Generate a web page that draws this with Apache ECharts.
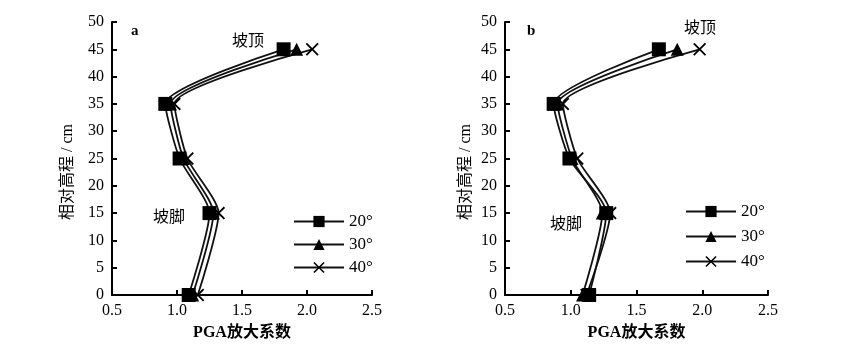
<!DOCTYPE html>
<html>
<head>
<meta charset="utf-8">
<script src="https://cdn.jsdelivr.net/npm/echarts@6/dist/echarts.min.js"></script>
<style>
  html, body { margin: 0; padding: 0; background: #fff; }
  #chart { width: 849px; height: 354px; }
</style>
</head>
<body>
<div id="chart"></div>
<script>
// 相对高程 (cm)
const heights = [0, 15, 25, 35, 45];
// a 图 PGA放大系数
const a20 = [1.09, 1.25, 1.02, 0.91, 1.82];
const a30 = [1.12, 1.28, 1.05, 0.95, 1.92];
const a40 = [1.16, 1.32, 1.08, 0.98, 2.04];
// b 图
const b20 = [1.14, 1.27, 0.99, 0.87, 1.67];
const b30 = [1.09, 1.24, 1.01, 0.90, 1.81];
const b40 = [1.12, 1.30, 1.05, 0.94, 1.98];
const names = ['20°', '30°', '40°'];

const serif = 'Liberation Serif, Noto Sans CJK SC';
const crossPath = 'path://M0,1L1,0L5,4L9,0L10,1L6,5L10,9L9,10L5,6L1,10L0,9L4,5Z';
const symbols = ['rect', 'triangle', crossPath];
const symbolSizes = [14, 13, 13];

const pair = (xs) => xs.map((v, i) => [v, heights[i]]);

const makeX = (gi) => ({
  gridIndex: gi, type: 'value', min: 0.5, max: 2.5, interval: 0.5,
  name: 'PGA放大系数', nameLocation: 'middle', nameGap: 30,
  nameTextStyle: { color: '#000', fontFamily: serif, fontSize: 16, fontWeight: 'bold' },
  axisLine: { lineStyle: { color: '#000', width: 2 } },
  axisTick: { inside: true, length: 5, lineStyle: { color: '#000', width: 2 } },
  axisLabel: { color: '#000', fontFamily: serif, fontSize: 16, margin: 8,
    formatter: v => v.toFixed(1) },
  splitLine: { show: false }
});
const makeY = (gi) => ({
  gridIndex: gi, type: 'value', min: 0, max: 50, interval: 5,
  axisLine: { show: true, lineStyle: { color: '#000', width: 2 } },
  axisTick: { show: true, inside: true, length: 5, lineStyle: { color: '#000', width: 2 } },
  axisLabel: { color: '#000', fontFamily: serif, fontSize: 16, margin: 8 },
  splitLine: { show: false }
});

const series = [];
[[a20, a30, a40], [b20, b30, b40]].forEach((group, gi) => {
  group.forEach((vals, k) => {
    series.push({
      name: names[k], type: 'line', xAxisIndex: gi, yAxisIndex: gi,
      data: pair(vals), smooth: 0.22,
      symbol: symbols[k], symbolSize: symbolSizes[k],
      lineStyle: { color: '#111', width: 1.8 },
      itemStyle: { color: '#000' },
      z: 3 - k
    });
  });
});

const legendStyle = (left, top, gap) => ({
  orient: 'vertical', left: left, top: top, itemWidth: 50, itemHeight: 14, itemGap: gap,
  data: names, selectedMode: false,
  textStyle: { color: '#000', fontFamily: serif, fontSize: 17 }
});

const label = (x, y, text, size, weight) => ({
  type: 'text', left: x, top: y,
  style: { text: text, fill: '#000', font: weight + ' ' + size + 'px ' + serif }
});

const yName = (x, y) => ({
  type: 'text', x: x, y: y, rotation: Math.PI / 2,
  style: { text: '相对高程 / cm', fill: '#000', font: '16px ' + serif,
    align: 'center', verticalAlign: 'middle' }
});

const chart = echarts.init(document.getElementById('chart'), null, { renderer: 'canvas' });
chart.setOption({
  backgroundColor: '#fff',
  animation: false,
  grid: [
    { left: 112, top: 22, width: 260, height: 273 },
    { left: 505, top: 22, width: 263, height: 273 }
  ],
  xAxis: [makeX(0), makeX(1)],
  yAxis: [makeY(0), makeY(1)],
  legend: [legendStyle(288, 208, 6), legendStyle(680, 198, 8)],
  graphic: [
    yName(68, 172),
    yName(466, 172),
    label(131, 24, 'a', 15, 'bold'),
    label(527, 24, 'b', 15, 'bold'),
    label(232, 34, '坡顶', 16, 'normal'),
    label(684, 21, '坡顶', 16, 'normal'),
    label(153, 210, '坡脚', 16, 'normal'),
    label(550, 217, '坡脚', 16, 'normal')
  ],
  series: series
});
</script>
</body>
</html>
